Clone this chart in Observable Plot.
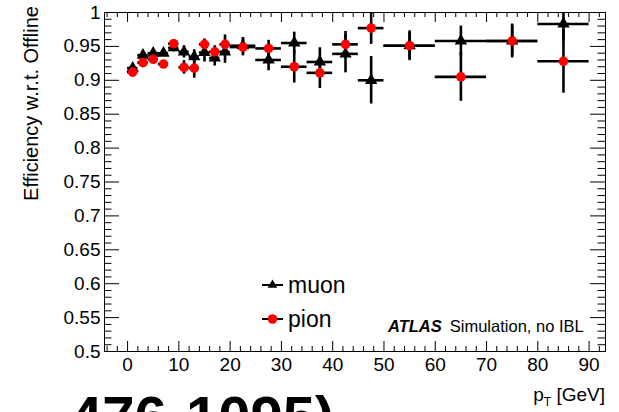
<!DOCTYPE html>
<html><head><meta charset="utf-8">
<script src="https://cdn.jsdelivr.net/npm/d3@7"></script>
<script src="https://cdn.jsdelivr.net/npm/@observablehq/plot@0.6"></script>
<style>
html,body{margin:0;padding:0;background:#fff;}
#wrap{position:relative;width:619px;height:412px;overflow:hidden;font-family:"Liberation Sans",Arial,Helvetica,sans-serif;}
#wrap svg{position:absolute;left:0;top:0;}
</style></head><body><div id="wrap"></div>
<script>
// pT bin centres and half widths [GeV]
const ptCenter    = [1,3,5,7,9,11,13,15,17,19,22.5,27.5,32.5,37.5,42.5,47.5,55,65,75,85];
const ptHalfWidth = [1,1,1,1,1,1,1,1,1,1,2.5,2.5,2.5,2.5,2.5,2.5,5,5,5,5];
// muon efficiency and error
const muonEff = [0.918,0.937,0.940,0.940,0.948,0.942,0.935,0.941,0.933,0.942,0.951,0.930,0.955,0.927,0.939,0.900,0.951,0.958,0.958,0.983];
const muonErr = [0.005,0.005,0.005,0.005,0.006,0.009,0.010,0.014,0.012,0.017,0.012,0.016,0.016,0.021,0.028,0.035,0.020,0.022,0.022,0.025];
// pion efficiency and error
const pionEff = [0.912,0.926,0.931,0.924,0.954,0.919,0.918,0.953,0.942,0.953,0.949,0.947,0.920,0.911,0.953,0.977,0.951,0.905,0.958,0.928];
const pionErr = [0.004,0.005,0.005,0.005,0.006,0.010,0.015,0.008,0.009,0.014,0.013,0.012,0.024,0.023,0.019,0.024,0.022,0.036,0.025,0.047];
// tick labels
const xTickLabels = [0,10,20,30,40,50,60,70,80,90];
const yTickLabels = [0.5,0.55,0.6,0.65,0.7,0.75,0.8,0.85,0.9,0.95,1];

const xMin = -4.5, xMax = 93.2, yMin = 0.5, yMax = 1;
const W = 619, H = 412, mL = 104, mR = 14, mT = 12, mB = 61;
const pxX = (W - mL - mR) / (xMax - xMin);
const pxY = (H - mT - mB) / (yMax - yMin);

const muon = ptCenter.map((x, i) => ({x, hw: ptHalfWidth[i], y: muonEff[i], e: muonErr[i]}));
const pion = ptCenter.map((x, i) => ({x, hw: ptHalfWidth[i], y: pionEff[i], e: pionErr[i]}));

const xMajor = xTickLabels;
const xMinor = d3.range(-4, 93, 2).filter(v => v % 10 !== 0);
const yMajor = yTickLabels;
const yMinor = d3.range(50, 101).filter(v => v % 5 !== 0).map(v => v / 100);

const xMajLen = 10 / pxY, xMinLen = 5 / pxY;
const yMajLen = 15 / pxX, yMinLen = 7.5 / pxX;
const tickStyle = {stroke: "black", strokeWidth: 1};
const font = "Liberation Sans, Arial, Helvetica, sans-serif";

const barW = 2.6;
const chart = Plot.plot({
  width: W, height: H,
  marginLeft: mL, marginRight: mR, marginTop: mT, marginBottom: mB,
  style: {fontFamily: font, fontSize: "19px", background: "white", color: "black"},
  x: {domain: [xMin, xMax]},
  y: {domain: [yMin, yMax]},
  marks: [
    // ticks (inside frame, all four sides)
    Plot.ruleX(xMajor, {x: d => d, y1: yMin, y2: yMin + xMajLen, ...tickStyle}),
    Plot.ruleX(xMinor, {x: d => d, y1: yMin, y2: yMin + xMinLen, ...tickStyle}),
    Plot.ruleX(xMajor, {x: d => d, y1: yMax, y2: yMax - xMajLen, ...tickStyle}),
    Plot.ruleX(xMinor, {x: d => d, y1: yMax, y2: yMax - xMinLen, ...tickStyle}),
    Plot.ruleY(yMajor, {y: d => d, x1: xMin, x2: xMin + yMajLen, ...tickStyle}),
    Plot.ruleY(yMinor, {y: d => d, x1: xMin, x2: xMin + yMinLen, ...tickStyle}),
    Plot.ruleY(yMajor, {y: d => d, x1: xMax, x2: xMax - yMajLen, ...tickStyle}),
    Plot.ruleY(yMinor, {y: d => d, x1: xMax, x2: xMax - yMinLen, ...tickStyle}),
    Plot.axisX(xTickLabels, {tickSize: 0, tickPadding: 6, label: null, fontSize: 19}),
    Plot.axisY(yTickLabels, {tickSize: 0, tickPadding: 4, label: null, fontSize: 19,
      tickFormat: d => String(+d.toFixed(2))}),
    // muon error bars
    Plot.ruleY(muon, {y: "y", x1: d => d.x - d.hw, x2: d => d.x + d.hw, stroke: "black", strokeWidth: barW, clip: true}),
    Plot.ruleX(muon, {x: "x", y1: d => d.y - d.e, y2: d => d.y + d.e, stroke: "black", strokeWidth: barW, clip: true}),
    // pion error bars
    Plot.ruleY(pion, {y: "y", x1: d => d.x - d.hw, x2: d => d.x + d.hw, stroke: "black", strokeWidth: barW, clip: true}),
    Plot.ruleX(pion, {x: "x", y1: d => d.y - d.e, y2: d => d.y + d.e, stroke: "black", strokeWidth: barW, clip: true}),
    Plot.dot(muon, {x: "x", y: "y", symbol: "triangle", r: 4.6, fill: "black", stroke: "none"}),
    Plot.dot(pion, {x: "x", y: "y", symbol: "circle", r: 4.8, fill: "#ff0000", stroke: "none"}),
    Plot.frame({stroke: "black", strokeWidth: 1})
  ]
});
const wrap = document.getElementById("wrap");
wrap.appendChild(chart);

// overlay text: titles, legend, labels
const ov = d3.create("svg").attr("width", W).attr("height", H)
  .attr("font-family", font).style("pointer-events", "none");
ov.append("text").attr("transform", "translate(38,6) rotate(-90)")
  .attr("text-anchor", "end").attr("font-size", 20).text("Efficiency w.r.t. Offline");
const xt = ov.append("text").attr("x", 605).attr("y", 401).attr("text-anchor", "end").attr("font-size", 19);
xt.append("tspan").text("p");
xt.append("tspan").attr("font-size", 12).attr("dy", 5).text("T");
xt.append("tspan").attr("dy", -5).text(" [GeV]");
// legend
const leg = [{name: "muon", y: 285, sym: "tri"}, {name: "pion", y: 319, sym: "dot"}];
for (const l of leg) {
  ov.append("line").attr("x1", 262).attr("x2", 283).attr("y1", l.y).attr("y2", l.y)
    .attr("stroke", "black").attr("stroke-width", 2);
  if (l.sym === "tri") {
    ov.append("path").attr("transform", `translate(272.5,${l.y})`)
      .attr("d", d3.symbol(d3.symbolTriangle, 40)()).attr("fill", "black");
  } else {
    ov.append("circle").attr("cx", 272.5).attr("cy", l.y).attr("r", 4.8).attr("fill", "#ff0000");
  }
  ov.append("text").attr("x", 288).attr("y", l.y + 7.5).attr("font-size", 23).text(l.name);
}
const at = ov.append("text").attr("x", 388).attr("y", 332).attr("font-size", 16.5);
at.append("tspan").attr("font-weight", "bold").attr("font-style", "italic").text("ATLAS");
at.append("tspan").attr("dx", 8).text("Simulation, no IBL");
ov.append("text").attr("x", 70).attr("y", 437).attr("font-size", 58).attr("font-weight", "bold").text("476-1095)");
wrap.appendChild(ov.node());
</script>
</body></html>
